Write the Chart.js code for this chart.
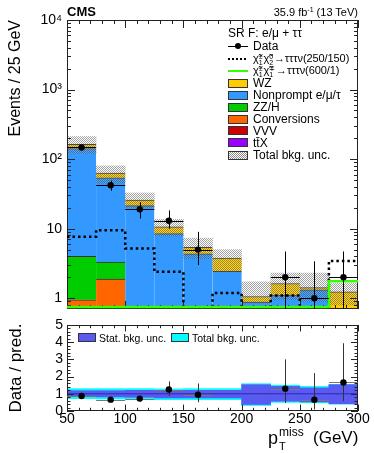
<!DOCTYPE html>
<html>
<head>
<meta charset="utf-8">
<title>SR F: pTmiss</title>
<script src="https://cdn.jsdelivr.net/npm/chart.js@4.4.1/dist/chart.umd.min.js"></script>
<style>
  html, body { margin: 0; padding: 0; background: #fff; }
  body { font-family: "Liberation Sans", Arial, Helvetica, sans-serif; color: #000; }
  #wrap { position: relative; width: 374px; height: 453px; overflow: hidden; }
  #mainChart { position: absolute; left: 0; top: 0; }
  #ratioChart { position: absolute; left: 0; top: 315px; }
  .txt { position: absolute; white-space: nowrap; line-height: 1; }
  .row { position: absolute; left: 228px; height: 12px; display: flex; align-items: center;
         font-size: 12px; line-height: 12px; white-space: nowrap; }
  .row.chi { font-size: 11px; letter-spacing: -0.1px; }
  .sw { width: 20px; height: 9px; box-sizing: border-box; border: 1px solid #333; margin-right: 5px; flex: none; }
  .ln { width: 20px; height: 12px; margin-right: 5px; flex: none; position: relative; }
  .ln.data::before { content: ""; position: absolute; left: 0; right: 0; top: 5.5px; height: 1px; background: #000; }
  .ln.data::after { content: ""; position: absolute; left: 7px; top: 3px; width: 6px; height: 6px; border-radius: 50%; background: #000; }
  .ln.dash::before { content: ""; position: absolute; left: 0; right: 0; top: 5px; height: 2px;
         background: repeating-linear-gradient(90deg, #000 0 2px, transparent 2px 4px); }
  .ln.green::before { content: ""; position: absolute; left: 0; right: 0; top: 5px; height: 2px; background: #33ff00; }
  .hatch { background-color: #fff;
           background-image: conic-gradient(#8a8a8a 25%, transparent 0 50%, #8a8a8a 0 75%, transparent 0);
           background-size: 2px 2px; }
  .ud { display: inline-flex; flex-direction: column; font-size: 7px; line-height: 6px; vertical-align: middle; margin: 0 1px 0 0; }
  .rl { position: absolute; top: 333px; height: 9px; display: flex; align-items: center; font-size: 10.5px; line-height: 12px; white-space: nowrap; }
  .rl .sw { width: 18px; margin-right: 3px; }
</style>
</head>
<body>
<div id="wrap">
  <canvas id="mainChart" width="374" height="315"></canvas>
  <canvas id="ratioChart" width="374" height="138"></canvas>

  <div class="txt" style="left:67px; top:5px; font-size:13px; font-weight:bold;">CMS</div>
  <div class="txt" style="right:16px; top:6px; font-size:11px;">35.9 fb<sup style="font-size:7px; vertical-align:4px;">-1</sup> (13 TeV)</div>

  <div class="row" style="top:27px;">SR F: e/μ + ττ</div>
  <div class="row" style="top:40px;"><span class="ln data"></span>Data</div>
  <div class="row chi" style="top:53px;"><span class="ln dash"></span><span>χ̃<span class="ud"><span>±</span><span>1</span></span>χ̃<span class="ud"><span>0</span><span>2</span></span>→τττν(250/150)</span></div>
  <div class="row chi" style="top:65px;"><span class="ln green"></span><span>χ̃<span class="ud"><span>±</span><span>1</span></span>χ̃<span class="ud"><span>∓</span><span>1</span></span>→τττν(600/1)</span></div>
  <div class="row" style="top:77px;"><span class="sw" style="background:#ffcc00"></span>WZ</div>
  <div class="row" style="top:89px;"><span class="sw" style="background:#3399ff"></span>Nonprompt e/μ/τ</div>
  <div class="row" style="top:101px;"><span class="sw" style="background:#00cc00"></span>ZZ/H</div>
  <div class="row" style="top:113px;"><span class="sw" style="background:#ff6600"></span>Conversions</div>
  <div class="row" style="top:124.5px;"><span class="sw" style="background:#cc0000"></span>VVV</div>
  <div class="row" style="top:136.5px;"><span class="sw" style="background:#9900ff"></span>tt̄X</div>
  <div class="row" style="top:149px;"><span class="sw hatch"></span>Total bkg. unc.</div>

  <div class="rl" style="left:78px;"><span class="sw" style="background:#5a5af2"></span>Stat. bkg. unc.</div>
  <div class="rl" style="left:171px;"><span class="sw" style="background:#00ffff"></span>Total bkg. unc.</div>

  <div class="txt" style="left:268px; top:429px; font-size:18px;">p</div>
  <div class="txt" style="left:279px; top:426px; font-size:12px;">miss</div>
  <div class="txt" style="left:279px; top:441px; font-size:11px;">T</div>
  <div class="txt" style="left:313px; top:429px; font-size:17px;">(GeV)</div>
</div>

<script>
// bin edges of the pTmiss histogram (GeV)
const binEdges = [50, 75, 100, 125, 150, 175, 200, 225, 250, 275, 300];

// background yields, events / 25 GeV
const wz          = [21, 9, 4.2, 2.1, 1.05, 1.34, 0.18, 0.52, 0.1, 0.74];
const nonprompt   = [138, 50.7, 21.5, 8.5, 4.35, 2.44, 0.88, 1.11, 1.32, 0.5];
const zzh         = [3.05, 1.42, 0, 0, 0, 0, 0, 0, 0, 0];
const conversions = [0.95, 1.88, 0, 0, 0, 0, 0, 0, 0, 0];
const vvv         = [0, 0, 0, 0, 0, 0, 0, 0, 0, 0];
const ttx         = [0, 0, 0, 0, 0, 0, 0, 0, 0, 0];

// total background uncertainty band
const bkgUncLow  = [121, 45, 20, 7.9, 3.7, 2.4, 0.85, 0.95, 0.9, 0.8];
const bkgUncHigh = [211, 80, 32.6, 13.6, 7.3, 5, 1.72, 2.3, 2.3, 1.63];

// signals (0.5 = below the axis floor)
const signal250 = [7.65, 9.5, 5.2, 2.4, 0.5, 1.19, 0.5, 1.09, 0.5, 3.43];
const signal600 = [0.75, 0.75, 0.75, 0.75, 0.75, 0.75, 0.75, 0.75, 0.75, 1.76];

// observed data
const dataCounts = [147, 42, 19, 13, 5, null, null, 2, 1, 2];
const dataHigh   = [159, 49, 24, 18.3, 9, null, null, 4.7, 3.4, 4.7];
const dataLow    = [135, 35, 14, 10, 3, null, null, 0.47, 0.17, 0.47];

// ratio panel
const ratio     = [0.87, 0.66, 0.72, 1.25, 0.95, null, null, 1.3, 0.66, 1.66];
const ratioHigh = [0.95, 0.77, 0.9, 1.72, 1.6, null, null, 3.0, 2.2, 3.94];
const ratioLow  = [0.8, 0.56, 0.56, 0.86, 0.51, null, null, 0.47, 0.09, 0.57];
const statLow   = [0.83, 0.82, 0.8, 0.76, 0.76, 0.76, 0.38, 0.57, 0.53, 0.42];
const statHigh  = [1.18, 1.18, 1.2, 1.18, 1.2, 1.2, 1.53, 1.43, 1.34, 1.53];
const totLow    = [0.72, 0.7, 0.68, 0.66, 0.66, 0.66, 0.32, 0.5, 0.47, 0.4];
const totHigh   = [1.3, 1.3, 1.3, 1.28, 1.3, 1.3, 1.59, 1.5, 1.43, 1.55];
const ratioRef  = 1;

const FONT = '"Liberation Sans", Arial, Helvetica, sans-serif';
Chart.defaults.font.family = FONT;
Chart.defaults.color = '#000';

const centers = binEdges.slice(0, -1).map((e, i) => (e + binEdges[i + 1]) / 2);
const perBin = (vals) => vals.map((v, i) => ({ x: centers[i], y: v ? v : null }));
const floating = (lo, hi) => lo.map((l, i) => ({ x: centers[i], y: [l, hi[i]] }));
const steps = (vals) => binEdges.map((e, i) => ({ x: e, y: vals[Math.min(i, vals.length - 1)] }));

function makeHatch() {
    const c = document.createElement('canvas');
    c.width = 2; c.height = 2;
    const g = c.getContext('2d');
    g.fillStyle = 'rgba(70, 70, 70, 0.5)';
    g.fillRect(0, 0, 1, 1);
    g.fillRect(1, 1, 1, 1);
    g.fillStyle = 'rgba(255, 255, 255, 0.15)';
    g.fillRect(1, 0, 1, 1);
    g.fillRect(0, 1, 1, 1);
    return g.createPattern(c, 'repeat');
}

function logLabel(v) {
    const lg = Math.log10(v);
    const e = Math.round(lg);
    if (Math.abs(lg - e) > 1e-6) return '';
    if (e === 0) return '1';
    if (e === 1) return '10';
    return '10' + '⁰¹²³⁴⁵⁶⁷⁸⁹'[e];
}

// keep the plot area exactly where the layout padding puts it
function fixWidth(w) {
    return (s) => { s.width = w; s.paddingTop = 0; s.paddingBottom = 0; };
}
function fixHeight(h) {
    return (s) => { s.height = h; s.paddingLeft = 0; s.paddingRight = 0; };
}

// inside tick marks, frame and error bars, ROOT style
const decor = {
    id: 'decor',
    afterDatasetDraw(chart, args, opts) {
        const { ctx, chartArea: a, scales: { x, y } } = chart;
        if (args.meta.order === opts.frameAfter) {
            ctx.save();
            ctx.strokeStyle = '#222';
            ctx.lineWidth = 1;
            ctx.beginPath();
            opts.xTicks.forEach(([v, len]) => {
                const px = Math.round(x.getPixelForValue(v)) + 0.5;
                ctx.moveTo(px, a.bottom); ctx.lineTo(px, a.bottom - len);
                ctx.moveTo(px, a.top); ctx.lineTo(px, a.top + len);
            });
            opts.yTicks.forEach(([v, len]) => {
                const py = Math.round(y.getPixelForValue(v)) + 0.5;
                ctx.moveTo(a.left, py); ctx.lineTo(a.left + len, py);
                ctx.moveTo(a.right, py); ctx.lineTo(a.right - len, py);
            });
            ctx.stroke();
            ctx.strokeRect(Math.round(a.left) + 0.5, Math.round(a.top) + 0.5,
                Math.round(a.right - a.left) - 1, Math.round(a.bottom - a.top) - 1);
            ctx.restore();
        }
        if (args.meta.order === opts.errAfter) {
            ctx.save();
            ctx.beginPath();
            ctx.rect(a.left, a.top, a.right - a.left, a.bottom - a.top);
            ctx.clip();
            ctx.lineWidth = 1;
            opts.values.forEach((v, i) => {
                if (v === null) return;
                const cy = Math.round(y.getPixelForValue(v)) + 0.5;
                const cx = Math.round(x.getPixelForValue(centers[i])) + 0.5;
                ctx.strokeStyle = opts.hColor;
                ctx.beginPath();
                ctx.moveTo(x.getPixelForValue(binEdges[i]), cy);
                ctx.lineTo(x.getPixelForValue(binEdges[i + 1]), cy);
                ctx.stroke();
                ctx.strokeStyle = opts.vColor;
                ctx.beginPath();
                ctx.moveTo(cx, y.getPixelForValue(opts.high[i]));
                ctx.lineTo(cx, y.getPixelForValue(opts.low[i]));
                ctx.stroke();
            });
            ctx.restore();
        }
    }
};

const xTicks = [];
for (let v = 50; v <= 300; v += 10) xTicks.push([v, v % 50 === 0 ? 8 : 4]);
const logTicks = [];
for (let e = -1; e <= 4; e++) {
    for (let k = 1; k <= 9; k++) {
        const v = k * Math.pow(10, e);
        if (v >= 0.745 && v <= 10000) logTicks.push([v, k === 1 ? 8 : 4]);
    }
}
const ratioTicks = [];
for (let i = 0; i <= 25; i++) ratioTicks.push([i / 5, i % 5 === 0 ? 7 : 3.5]);

// background stack, bottom to top
const bkgStack = [
    { label: 'ttX', vals: ttx, color: '#9900ff' },
    { label: 'VVV', vals: vvv, color: '#cc0000' },
    { label: 'Conversions', vals: conversions, color: '#ff6600' },
    { label: 'ZZ/H', vals: zzh, color: '#00cc00' },
    { label: 'Nonprompt e/mu/tau', vals: nonprompt, color: '#3399ff' },
    { label: 'WZ', vals: wz, color: '#ffcc00' }
];

const barCommon = { type: 'bar', grouped: false, barPercentage: 1, categoryPercentage: 1, clip: 0 };

const mainDatasets = bkgStack.map((b, k) => ({
    ...barCommon,
    label: b.label,
    data: perBin(b.vals),
    backgroundColor: b.color,
    borderColor: '#333',
    borderWidth: { top: 1, right: 0, bottom: 0, left: 0 },
    borderSkipped: false,
    stack: 'bkg',
    order: 8 + k
}));

mainDatasets.push({
    ...barCommon,
    label: 'Total bkg. unc.',
    data: floating(bkgUncLow, bkgUncHigh),
    backgroundColor: makeHatch(),
    borderWidth: 0,
    stack: 'unc',
    order: 5
});
mainDatasets.push({
    type: 'line', label: 'signal 250/150', data: steps(signal250), stepped: 'before',
    borderColor: '#000', borderWidth: 2.5, borderDash: [2.5, 3], pointRadius: 0,
    fill: false, stack: 'sig250', order: 3
});
mainDatasets.push({
    type: 'line', label: 'signal 600/1', data: steps(signal600), stepped: 'before',
    borderColor: '#33ff00', borderWidth: 2.5, pointRadius: 0,
    fill: false, stack: 'sig600', order: 2
});
mainDatasets.push({
    type: 'line', label: 'Data', data: perBin(dataCounts), showLine: false,
    pointRadius: 3.2, pointBackgroundColor: '#000', pointBorderWidth: 0,
    stack: 'obs', order: 0
});

new Chart(document.getElementById('mainChart'), {
    type: 'bar',
    data: { datasets: mainDatasets },
    options: {
        responsive: false,
        animation: false,
        events: [],
        layout: { padding: { top: 20, right: 16, bottom: 6, left: 0 } },
        plugins: {
            legend: { display: false },
            tooltip: { enabled: false },
            decor: {
                frameAfter: 5, errAfter: 2,
                xTicks: xTicks, yTicks: logTicks,
                values: dataCounts, high: dataHigh, low: dataLow,
                hColor: '#000', vColor: '#000'
            }
        },
        scales: {
            x: { type: 'linear', min: 50, max: 300, offset: false, display: false },
            y: {
                type: 'logarithmic', min: 0.745, max: 10000, stacked: true,
                afterFit: fixWidth(67),
                grid: { display: false, drawTicks: false },
                border: { display: false },
                ticks: { autoSkip: false, padding: 5, font: { size: 14 }, color: '#000', callback: logLabel },
                title: {
                    display: true, text: 'Events / 25 GeV', align: 'end', color: '#000',
                    font: { size: 16 }, padding: { top: 6, bottom: 0 }
                }
            }
        }
    },
    plugins: [decor]
});

new Chart(document.getElementById('ratioChart'), {
    type: 'bar',
    data: {
        datasets: [
            { ...barCommon, label: 'Total bkg. unc.', data: floating(totLow, totHigh),
              backgroundColor: '#00ffff', borderWidth: 0, order: 5 },
            { ...barCommon, label: 'Stat. bkg. unc.', data: floating(statLow, statHigh),
              backgroundColor: '#5a5af2', borderWidth: 0, order: 4 },
            { type: 'line', label: 'unity',
              data: [{ x: binEdges[0], y: ratioRef }, { x: binEdges[binEdges.length - 1], y: ratioRef }],
              borderColor: '#2a2aa8', borderWidth: 1, pointRadius: 0, order: 3 },
            { type: 'line', label: 'Data / pred.', data: perBin(ratio), showLine: false,
              pointRadius: 3.2, pointBackgroundColor: '#000', pointBorderWidth: 0, order: 0 }
        ]
    },
    options: {
        responsive: false,
        animation: false,
        events: [],
        layout: { padding: { top: 10, right: 16, bottom: 0, left: 0 } },
        plugins: {
            legend: { display: false },
            tooltip: { enabled: false },
            decor: {
                frameAfter: 4, errAfter: 3,
                xTicks: xTicks.map(([v, l]) => [v, l * 0.8]), yTicks: ratioTicks,
                values: ratio, high: ratioHigh, low: ratioLow,
                hColor: '#777', vColor: '#333'
            }
        },
        scales: {
            x: {
                type: 'linear', min: 50, max: 300, offset: false,
                afterFit: fixHeight(42),
                grid: { display: false, drawTicks: false },
                border: { display: false },
                ticks: { stepSize: 50, autoSkip: false, padding: 0, font: { size: 14 }, color: '#000', maxRotation: 0 }
            },
            y: {
                type: 'linear', min: 0, max: 5,
                afterFit: fixWidth(67),
                grid: { display: false, drawTicks: false },
                border: { display: false },
                ticks: { stepSize: 1, autoSkip: false, padding: 4, font: { size: 14 }, color: '#000' },
                title: {
                    display: true, text: 'Data / pred.', align: 'center', color: '#000',
                    font: { size: 17 }, padding: { top: 6, bottom: 0 }
                }
            }
        }
    },
    plugins: [decor]
});
</script>
</body>
</html>
